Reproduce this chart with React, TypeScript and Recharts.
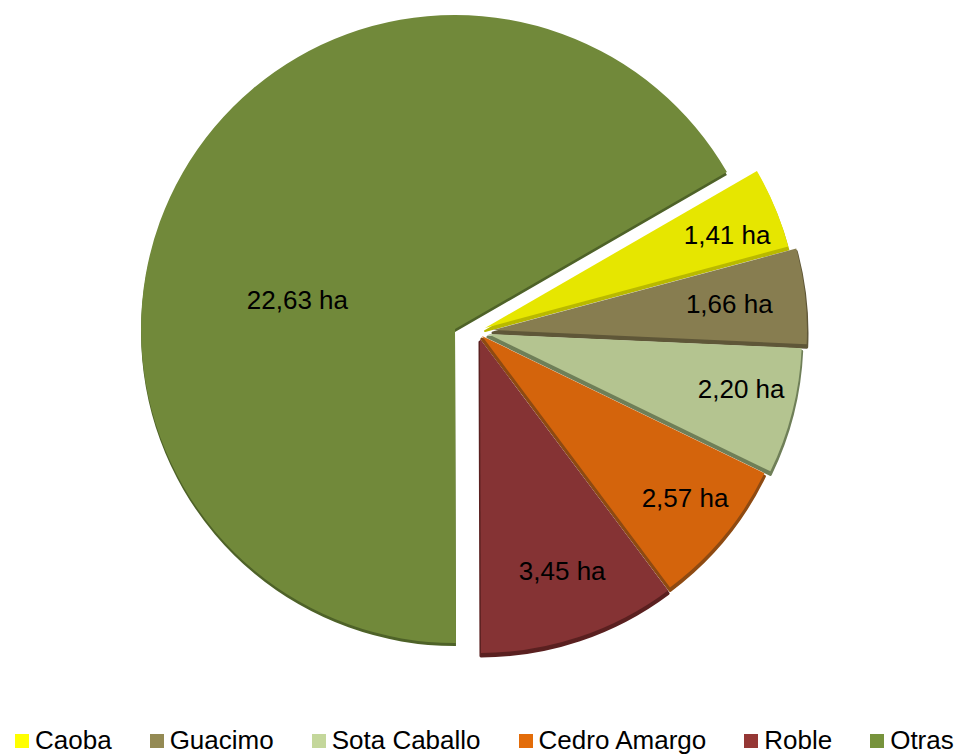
import React from 'react';
import { PieChart, Pie, Sector, Legend } from 'recharts';

const CATEGORIES = ['Caoba', 'Guacimo', 'Sota Caballo', 'Cedro Amargo', 'Roble', 'Otras'];
const AREA_HA = [1.41, 1.66, 2.2, 2.57, 3.45, 22.63];
const SLICE_COLORS = ['#E6E600', '#877D50', '#B4C490', '#D4640C', '#853334', '#71893A'];
const EDGE_COLORS = ['#B9B900', '#5F5738', '#6F7F58', '#8E4A12', '#5A2020', '#4E6228'];
const LEGEND_COLORS = ['#FFFF00', '#948A54', '#C4D79B', '#E36C09', '#953735', '#77933C'];
// explosion offsets (dx, dy) of each slice
const EXPLODE = [[15, -5], [23, -3], [18, 1], [12, 3], [10, 6], [-15, -4]];
// width of the dark side band stroke per slice
const EDGE_STROKE = [2, 3, 3, 3, 3, 0];
// label placement: fraction of radius and angular shift (degrees, clockwise)
const LABEL_R = [0.826, 0.757, 0.825, 0.827, 0.785, 0.51];
const LABEL_DT = [1.5, 0, -2, -1, -1, -19.6];

const FONT = '"Liberation Sans", Arial, sans-serif';

const data = CATEGORIES.map((name, i) => ({ name, value: AREA_HA[i] }));

const fmt = (v: number) => v.toFixed(2).replace('.', ',') + ' ha';

const SliceShape = (props: any) => {
  const name = props.name ?? props.payload?.name;
  const i = CATEGORIES.indexOf(name);
  const [dx, dy] = EXPLODE[i];
  const cx = props.cx + dx;
  const cy = props.cy + dy;
  return (
    <g>
      <Sector
        cx={cx}
        cy={cy + 3}
        innerRadius={0}
        outerRadius={props.outerRadius}
        startAngle={props.startAngle}
        endAngle={props.endAngle}
        fill={EDGE_COLORS[i]}
        stroke={EDGE_STROKE[i] > 0 ? EDGE_COLORS[i] : 'none'}
        strokeWidth={EDGE_STROKE[i]}
        strokeLinejoin="round"
      />
      <Sector
        cx={cx}
        cy={cy}
        innerRadius={0}
        outerRadius={props.outerRadius}
        startAngle={props.startAngle}
        endAngle={props.endAngle}
        fill={SLICE_COLORS[i]}
        stroke="none"
      />
    </g>
  );
};

const renderLabel = (props: any) => {
  const name = props.name ?? props.payload?.name;
  const i = CATEGORIES.indexOf(name);
  const [dx, dy] = EXPLODE[i];
  const ax = props.cx + dx;
  const ay = props.cy + dy;
  const a = ((props.midAngle - LABEL_DT[i]) * Math.PI) / 180;
  const r = props.outerRadius * LABEL_R[i];
  const x = ax + r * Math.cos(a);
  const y = ay - r * Math.sin(a);
  return (
    <text
      x={x}
      y={y}
      textAnchor="middle"
      dominantBaseline="central"
      fill="#000"
      style={{ fontFamily: FONT, fontSize: 26 }}
    >
      {fmt(AREA_HA[i])}
    </text>
  );
};

const LegendContent = () => (
  <div
    style={{
      display: 'flex',
      alignItems: 'center',
      gap: 38,
      fontFamily: FONT,
      fontSize: 26,
      color: '#000',
      lineHeight: '29px',
      paddingLeft: 15,
    }}
  >
    {CATEGORIES.map((c, i) => (
      <div key={c} style={{ display: 'flex', alignItems: 'center' }}>
        <span
          style={{
            display: 'inline-block',
            width: 14,
            height: 14,
            background: LEGEND_COLORS[i],
            marginRight: 6,
          }}
        />
        <span>{c}</span>
      </div>
    ))}
  </div>
);

export default function App() {
  return (
    <div style={{ width: 960, height: 756, background: '#fff', position: 'relative' }}>
      <style>{'body{margin:0;background:#fff;}'}</style>
      <PieChart width={960} height={756} margin={{ top: 0, right: 0, bottom: 0, left: 0 }}>
        <Pie
          data={data}
          dataKey="value"
          nameKey="name"
          cx={470}
          cy={333}
          innerRadius={0}
          outerRadius={314}
          startAngle={30}
          endAngle={-330}
          stroke="none"
          isAnimationActive={false}
          shape={SliceShape}
          label={renderLabel}
          labelLine={false}
        />
        <Legend
          content={() => <LegendContent />}
          wrapperStyle={{ position: 'absolute', left: 0, top: 726, width: 960, height: 30, bottom: 'auto' }}
        />
      </PieChart>
    </div>
  );
}
